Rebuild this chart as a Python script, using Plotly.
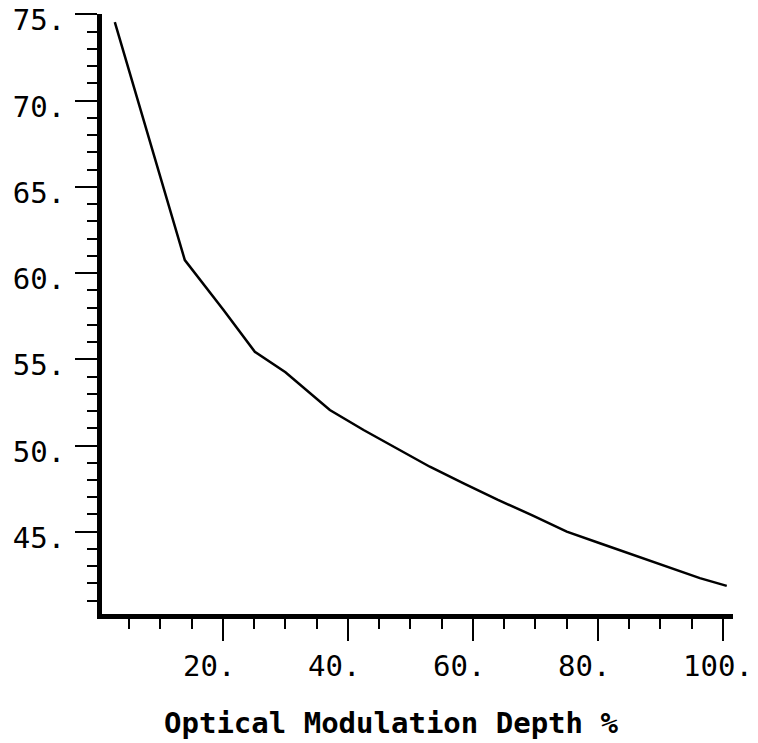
import plotly.graph_objects as go

# Data
depth = [2.7, 13.9, 20, 25.1, 30, 33.9, 37.1, 42.5, 47.8, 53.1, 58.5, 64, 69.5, 75, 80.3, 85.7, 91, 96.3, 100.6]
value = [74.55, 60.75, 57.9, 55.43, 54.25, 53.02, 52.06, 50.9, 49.84, 48.77, 47.81, 46.85, 45.95, 45.01, 44.33, 43.66, 42.98, 42.31, 41.86]

x_ticks = [20, 40, 60, 80, 100]
x_labels = ["20.\u00a0", "40.\u00a0", "60.\u00a0", "80.\u00a0", "100."]
y_ticks = [45, 50, 55, 60, 65, 70, 75]
y_labels = ["45.", "50.", "55.", "60.", "65.", "70.", "75."]

x_title = "Optical Modulation Depth %"

FONT = "DejaVu Sans Mono"

fig = go.Figure()
fig.add_trace(go.Scatter(x=depth, y=value, mode="lines",
                         line=dict(color="black", width=2.5), showlegend=False))

fig.update_layout(
    width=758, height=743,
    margin=dict(l=102, r=25, t=14, b=129),
    paper_bgcolor="white", plot_bgcolor="white",
    font=dict(family=FONT, color="black", size=29),
    xaxis=dict(
        range=[0.65, 101.6], showgrid=False, zeroline=False, automargin=False,
        showline=True, linewidth=5, linecolor="black",
        tickmode="array", tickvals=x_ticks, ticktext=x_labels,
        ticks="outside", ticklen=22, tickwidth=2, tickcolor="black",
        ticklabelshift=-5, ticklabeloverflow="allow",
        tickfont=dict(family=FONT, size=29, color="black"),
        minor=dict(tickmode="linear", tick0=0, dtick=5, ticks="outside",
                   ticklen=10, tickwidth=2, tickcolor="black", showgrid=False),
    ),
    yaxis=dict(
        range=[40.23, 75.02], showgrid=False, zeroline=False, automargin=False,
        showline=True, linewidth=5, linecolor="black",
        tickmode="array", tickvals=y_ticks, ticktext=y_labels,
        ticks="outside", ticklen=22, tickwidth=2, tickcolor="black",
        ticklabelshift=6, ticklabelstandoff=4, ticklabeloverflow="allow",
        tickfont=dict(family=FONT, size=29, color="black"),
        minor=dict(tickmode="linear", tick0=0, dtick=1, ticks="outside",
                   ticklen=10, tickwidth=2, tickcolor="black", showgrid=False),
    ),
    annotations=[dict(text="<b>" + x_title + "</b>", xref="paper", yref="paper",
                      x=0.4585, y=-0.1817, xanchor="center", yanchor="middle",
                      showarrow=False,
                      font=dict(family=FONT, size=29, color="black"))],
)

fig.write_html("out.html")
